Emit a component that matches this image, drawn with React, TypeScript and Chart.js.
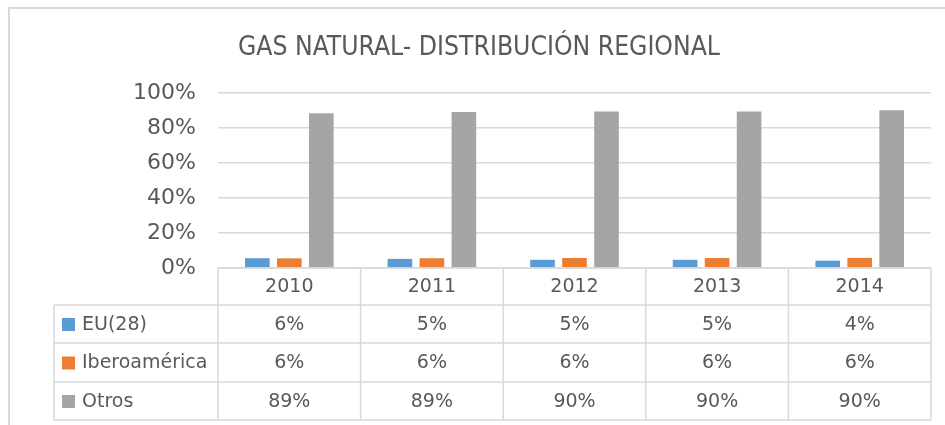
import React, { useEffect, useRef } from "react";
import { Chart, registerables } from "chart.js";

Chart.register(...registerables);

const TITLE = "GAS NATURAL- DISTRIBUCIÓN REGIONAL";
const YEARS = ["2010", "2011", "2012", "2013", "2014"];
const SERIES_NAMES = ["EU(28)", "Iberoamérica", "Otros"];
const EU28 = [5.6, 5.2, 4.7, 4.7, 4.2];
const IBEROAMERICA = [5.5, 5.6, 5.7, 5.7, 5.8];
const OTROS = [88.5, 89.2, 89.5, 89.5, 90.1];
const COLORS = ["#5b9bd5", "#ed7d31", "#a5a5a5"];
const Y_TICKS = [0, 20, 40, 60, 80, 100];

const TEXT = "#595959";
const LINE = "#d9d9d9";
const FONT = "'DejaVu Sans', Verdana, sans-serif";

const frameAndTable = {
  id: "frameAndTable",
  afterDraw(chart: any) {
    const ctx = chart.ctx as CanvasRenderingContext2D;
    const area = chart.chartArea;
    const xs = chart.scales.x;
    const n = YEARS.length;
    const colW = (area.right - area.left) / n;
    const top = area.bottom;
    const rows = [0, 37, 75, 114, 152].map((d) => top + d);
    const legendLeft = 54;
    ctx.save();
    // outer frame (cropped on right & bottom)
    ctx.strokeStyle = LINE;
    ctx.lineWidth = 2;
    ctx.beginPath();
    ctx.moveTo(9, 440);
    ctx.lineTo(9, 8);
    ctx.lineTo(960, 8);
    ctx.stroke();

    // title
    ctx.fillStyle = TEXT;
    ctx.font = `27px 'DejaVu Sans Condensed', 'DejaVu Sans', sans-serif`;
    ctx.textAlign = "center";
    ctx.textBaseline = "alphabetic";
    const w = ctx.measureText(TITLE).width;
    ctx.save();
    ctx.translate(479, 55);
    ctx.scale(482 / w, 1);
    ctx.fillText(TITLE, 0, 0);
    ctx.restore();

    // table grid
    ctx.lineWidth = 1.5;
    ctx.strokeStyle = LINE;
    ctx.beginPath();
    ctx.moveTo(area.left, rows[0]);
    ctx.lineTo(area.right, rows[0]);
    for (let r = 1; r < rows.length; r++) {
      ctx.moveTo(legendLeft, rows[r]);
      ctx.lineTo(area.right, rows[r]);
    }
    for (let c = 0; c <= n; c++) {
      const x = area.left + c * colW;
      ctx.moveTo(x, rows[0]);
      ctx.lineTo(x, rows[rows.length - 1]);
    }
    ctx.moveTo(legendLeft, rows[1]);
    ctx.lineTo(legendLeft, rows[rows.length - 1]);
    ctx.stroke();

    // header
    ctx.font = `19px ${FONT}`;
    ctx.fillStyle = TEXT;
    ctx.textAlign = "center";
    ctx.textBaseline = "middle";
    YEARS.forEach((y, i) => {
      ctx.fillText(y, xs.getPixelForValue(i), (rows[0] + rows[1]) / 2 + 1);
    });

    // rows
    const datasets = chart.data.datasets;
    datasets.forEach((ds: any, r: number) => {
      const cy = (rows[r + 1] + rows[r + 2]) / 2 + 1;
      ctx.fillStyle = ds.backgroundColor;
      ctx.fillRect(62, cy - 7, 13, 13);
      ctx.fillStyle = TEXT;
      ctx.textAlign = "left";
      ctx.fillText(ds.label, 82, cy);
      ctx.textAlign = "center";
      ds.data.forEach((v: number, i: number) => {
        ctx.fillText(Math.round(v) + "%", xs.getPixelForValue(i), cy);
      });
    });
    ctx.restore();
  },
};

export default function App() {
  const ref = useRef<HTMLCanvasElement>(null);
  useEffect(() => {
    document.body.style.margin = "0";
    const chart = new Chart(ref.current!, {
      type: "bar",
      data: {
        labels: YEARS,
        datasets: [EU28, IBEROAMERICA, OTROS].map((d, i) => ({
          label: SERIES_NAMES[i],
          data: d,
          backgroundColor: COLORS[i],
          categoryPercentage: 0.673,
          barPercentage: 0.77,
        })),
      },
      options: {
        responsive: false,
        animation: false,
        layout: { padding: { left: 0, right: 14, top: 93, bottom: 157 } },
        plugins: {
          legend: { display: false },
          title: { display: false },
          tooltip: { enabled: false },
        },
        scales: {
          x: { display: false },
          y: {
            min: 0,
            max: 100,
            afterFit: (s: any) => {
              s.width = 218;
            },
            afterBuildTicks: (s: any) => {
              s.ticks = Y_TICKS.map((v) => ({ value: v }));
            },
            ticks: {
              padding: 22,
              color: TEXT,
              font: { family: FONT, size: 22 },
              callback: (v: any) => v + "%",
            },
            grid: { color: LINE, lineWidth: 1.5, drawTicks: false },
            border: { display: false },
          },
        },
      },
      plugins: [frameAndTable],
    });
    return () => chart.destroy();
  }, []);
  return <canvas ref={ref} width={945} height={425} style={{ display: "block" }} />;
}
